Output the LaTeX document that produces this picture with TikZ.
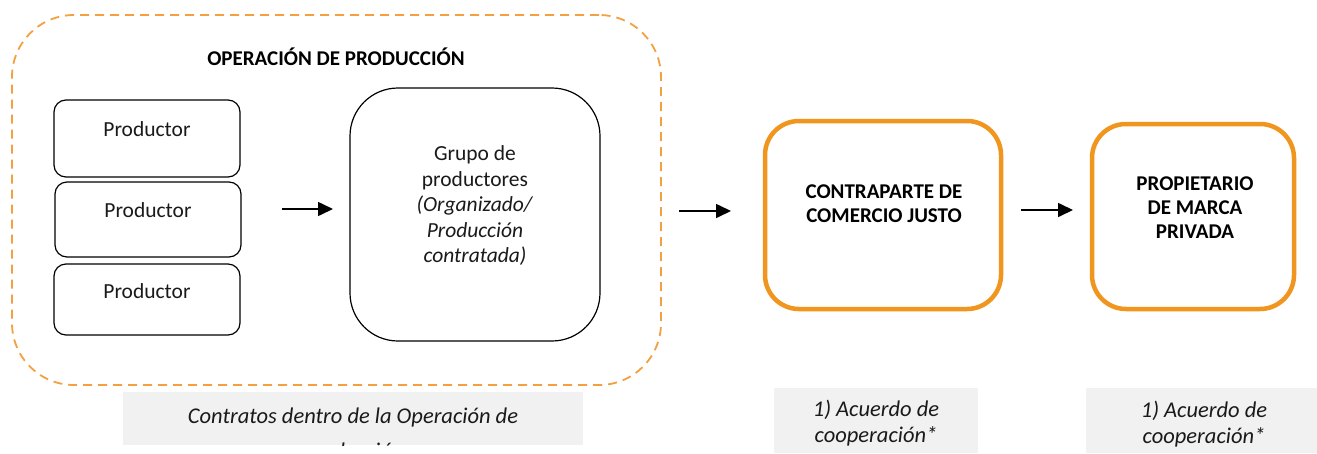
\documentclass[tikz,border=0pt]{standalone}
\usepackage{fontspec}
\setmainfont{Carlito}
\usetikzlibrary{arrows.meta}
\definecolor{orng}{HTML}{F0961E}
\definecolor{dorng}{HTML}{F2A040}
\definecolor{lgray}{HTML}{F1F1F1}
\definecolor{txtc}{HTML}{1A1A1A}
\begin{document}
\begin{tikzpicture}[x=1pt,y=-1pt,
  txt/.style={font=\fontsize{21.5}{25.5}\selectfont, align=center, inner sep=0pt, text=txtc},
  itx/.style={font=\fontsize{22.5}{26}\selectfont\itshape, align=center, inner sep=0pt, text=txtc},
  hd/.style={font=\fontsize{21}{24}\selectfont\bfseries, align=center, inner sep=0pt},
  prodbox/.style={draw=black, line width=1.2pt, rounded corners=12pt, minimum width=186pt},
  grpbox/.style={draw=black, line width=1.2pt, rounded corners=48pt},
  obox/.style={draw=orng, line width=4.5pt, rounded corners=34pt, fill=white},
  dbox/.style={draw=dorng, line width=1.8pt, dash pattern=on 9pt off 6pt, rounded corners=62pt},
  gbox/.style={fill=lgray, draw=none},
  arr/.style={line width=1.6pt, -{Triangle[length=15pt,width=14pt]}}
]
\useasboundingbox (0,0) rectangle (1317,453);
\fill[white] (0,0) rectangle (1317,453);

% outer dashed group
\node[dbox, minimum width=649pt, minimum height=370pt] (op) at (336.5,200) {};
\node[hd] (title) at (336,57) {OPERACIÓN DE PRODUCCIÓN};

% producers
\node[prodbox, minimum height=77pt] (p1) at (147,138.5) {};
\node[txt] (t1) at (147,129) {Productor};
\node[prodbox, minimum height=75pt] (p2) at (148,219.5) {};
\node[txt] (t2) at (148,210) {Productor};
\node[prodbox, minimum height=71pt] (p3) at (147,299.5) {};
\node[txt] (t3) at (147,291) {Productor};

% group
\node[grpbox, minimum width=250pt, minimum height=253pt] (grp) at (475,214.5) {};
\node[txt] (grpt) at (475,206) {Grupo de\\productores\\\textit{(Organizado/}\\\textit{Producción}\\\textit{contratada)}};

% orange boxes
\node[obox, minimum width=236pt, minimum height=188pt] (cp) at (883,215) {};
\node[hd] (cpt) at (884,204) {CONTRAPARTE DE\\COMERCIO JUSTO};
\node[obox, minimum width=202pt, minimum height=185pt] (pm) at (1193,216.5) {};
\node[hd] (pmt) at (1195,208) {PROPIETARIO\\DE MARCA\\PRIVADA};

% arrows
\coordinate (a1s) at (282,209); \coordinate (a1e) at (333,209);
\coordinate (a2s) at (679,211); \coordinate (a2e) at (731,211);
\coordinate (a3s) at (1021,210); \coordinate (a3e) at (1073,210);
\draw[arr] (a1s) -- (a1e);
\draw[arr] (a2s) -- (a2e);
\draw[arr] (a3s) -- (a3e);

% gray notes
\node[gbox, minimum width=460pt, minimum height=53pt] (g1) at (353,418.5) {};
\begin{scope}
\clip (123,392) rectangle (583,445);
\node[itx, font=\fontsize{22.5}{35}\selectfont\itshape] (g1t) at (353,435) {Contratos dentro de la Operación de\\producción};
\end{scope}
\node[gbox, minimum width=204pt, minimum height=65pt] (g2) at (876,420.5) {};
\node[itx] (g2t) at (876,423) {1) Acuerdo de\\cooperación*};
\node[gbox, minimum width=231pt, minimum height=65pt] (g3) at (1201.5,420.5) {};
\node[itx] (g3t) at (1204,424) {1) Acuerdo de\\cooperación*};
\end{tikzpicture}
\end{document}
